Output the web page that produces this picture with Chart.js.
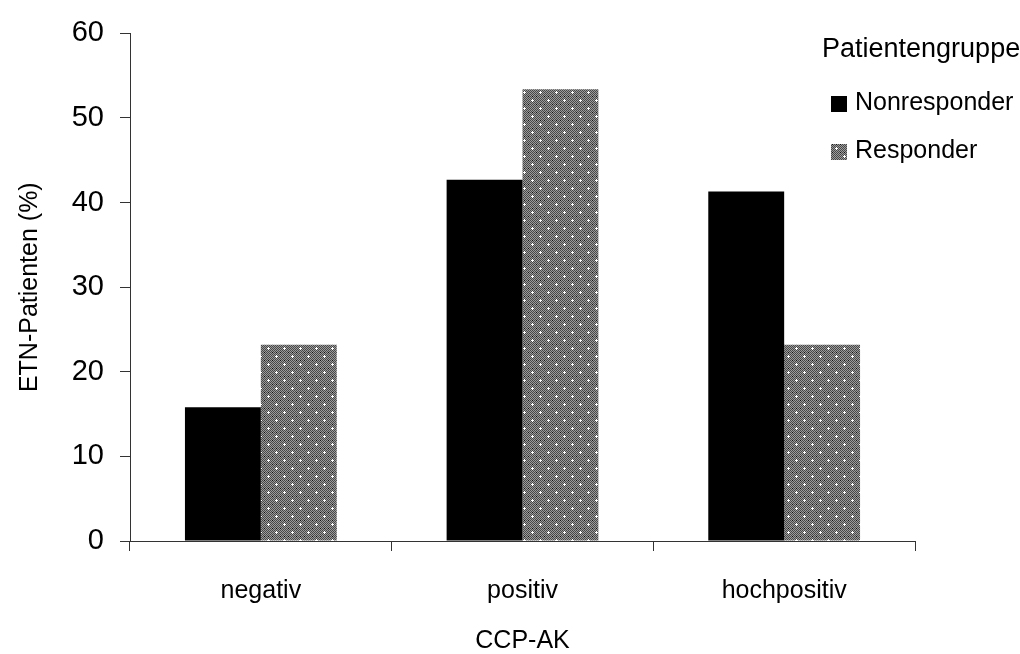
<!DOCTYPE html>
<html>
<head>
<meta charset="utf-8">
<title>ETN-Patienten nach CCP-AK</title>
<script src="https://cdn.jsdelivr.net/npm/chart.js@4/dist/chart.umd.min.js"></script>
<style>
  html, body { margin: 0; padding: 0; background: #fff; }
  #wrap { width: 1020px; height: 654px; position: relative; }
</style>
</head>
<body>
<div id="wrap"><canvas id="c" width="1020" height="654"></canvas></div>
<script>
// Categories and series values (% of ETN patients)
const categories = ['negativ', 'positiv', 'hochpositiv'];
const nonresponder = [15.8, 42.7, 41.3];
const responder = [23.2, 53.4, 23.2];
const seriesNames = ['Nonresponder', 'Responder'];
const legendTitle = 'Patientengruppe';
const xTitle = 'CCP-AK';
const yTitle = 'ETN-Patienten (%)';
const yTicks = [0, 10, 20, 30, 40, 50, 60];

const FONT = '"Liberation Sans", Arial, Helvetica, sans-serif';
const AXIS = '#333';

// Dotted gray fill: pixel checker with white plus-shaped dots on a diamond lattice
function makeDotPattern() {
  const t = document.createElement('canvas');
  t.width = 16; t.height = 16;
  const g = t.getContext('2d');
  for (let y = 0; y < 16; y++) {
    for (let x = 0; x < 16; x++) {
      g.fillStyle = ((x + y) % 2 === 0) ? '#474747' : '#9c9c9c';
      g.fillRect(x, y, 1, 1);
    }
  }
  g.fillStyle = '#111111';
  [[8, 0], [0, 8], [8, 8], [0, 0], [4, 0], [12, 8]].forEach(([x, y]) => g.fillRect(x, y, 1, 1));
  g.fillStyle = '#ffffff';
  [[4, 4], [12, 12]].forEach(([cx, cy]) => {
    g.fillRect(cx, cy, 1, 1);
    g.fillRect(cx - 1, cy, 1, 1);
    g.fillRect(cx + 1, cy, 1, 1);
    g.fillRect(cx, cy - 1, 1, 1);
    g.fillRect(cx, cy + 1, 1, 1);
  });
  return g.createPattern(t, 'repeat');
}

const ctx = document.getElementById('c').getContext('2d');
const dotFill = makeDotPattern();

// Legend drawn in the upper right, over the plot region
const floatingLegend = {
  id: 'floatingLegend',
  afterDraw(chart) {
    const c = chart.ctx;
    const x0 = chart.width - 198;
    c.save();
    c.fillStyle = '#000';
    c.textBaseline = 'alphabetic';
    c.textAlign = 'left';
    c.font = '27px ' + FONT;
    c.fillText(legendTitle, x0, 57);
    c.font = '25px ' + FONT;
    chart.data.datasets.forEach((ds, i) => {
      const sy = 96 + i * 48;
      c.fillStyle = ds.backgroundColor;
      c.fillRect(x0 + 9, sy, 16, 16);
      c.fillStyle = '#000';
      c.fillText(ds.label, x0 + 33, sy + 14);
    });
    c.restore();
  }
};

new Chart(ctx, {
  type: 'bar',
  data: {
    labels: categories,
    datasets: [
      { label: seriesNames[0], data: nonresponder, backgroundColor: '#000000', borderWidth: 0 },
      { label: seriesNames[1], data: responder, backgroundColor: dotFill, borderWidth: 0 }
    ]
  },
  options: {
    responsive: false,
    animation: false,
    devicePixelRatio: 1,
    layout: { padding: { top: 24, right: 105, left: 0, bottom: 0 } },
    plugins: {
      legend: { display: false },
      tooltip: { enabled: false }
    },
    datasets: {
      bar: { categoryPercentage: 0.58, barPercentage: 1.0 }
    },
    scales: {
      x: {
        offset: true,
        grid: { offset: true, drawOnChartArea: false, drawTicks: true, tickLength: 10, color: AXIS, lineWidth: 1 },
        border: { display: true, color: AXIS, width: 1 },
        ticks: { color: '#000', font: { family: FONT, size: 25, lineHeight: 1.2 }, padding: 25, maxRotation: 0 },
        title: { display: true, text: xTitle, color: '#000', font: { family: FONT, size: 25, lineHeight: 1.2 }, padding: { top: 0, bottom: -2 } },
        afterFit(scale) { scale.height = 113; }
      },
      y: {
        min: 0,
        max: 60,
        afterBuildTicks(scale) { scale.ticks = yTicks.map(v => ({ value: v })); },
        grid: { drawOnChartArea: false, drawTicks: true, tickLength: 10, color: AXIS, lineWidth: 1 },
        border: { display: true, color: AXIS, width: 1 },
        ticks: { color: '#000', font: { family: FONT, size: 29, lineHeight: 1.2 }, padding: 16 },
        title: { display: true, text: yTitle, color: '#000', font: { family: FONT, size: 25, lineHeight: 1.2 }, padding: { top: 15, bottom: 0 } },
        afterFit(scale) { scale.width = 130; }
      }
    }
  },
  plugins: [floatingLegend]
});
</script>
</body>
</html>
